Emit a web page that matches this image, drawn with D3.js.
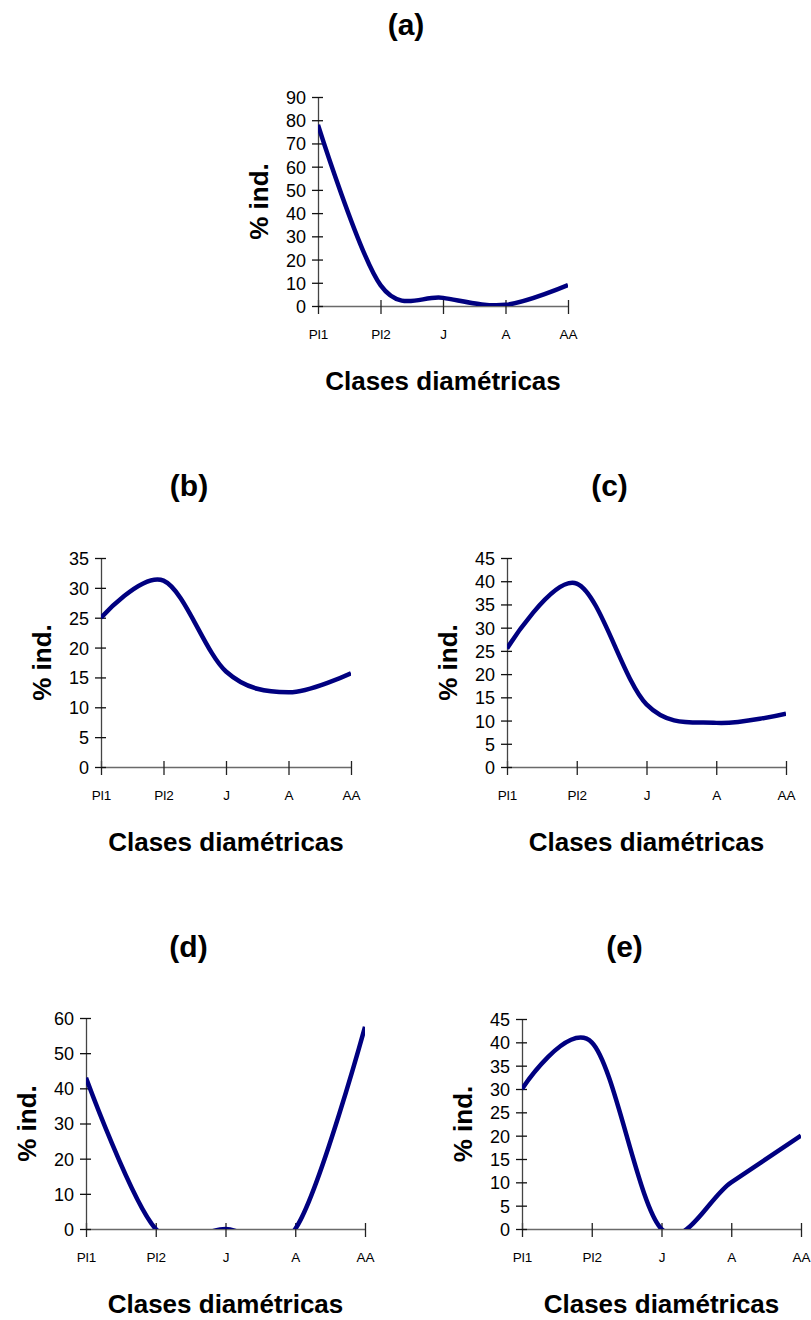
<!DOCTYPE html>
<html>
<head>
<meta charset="utf-8" />
<style>
body { margin:0; background:#fff; }
text { font-family: Arial, "Liberation Sans", sans-serif; fill:#000; }
.titulo { font-size:30px; font-weight:bold; }
.eje { font-size:26px; font-weight:bold; }
.ytick { font-size:18px; }
.xtick { font-size:13.5px; }
</style>
</head>
<body>
<svg id="lienzo" width="811" height="1320" xmlns="http://www.w3.org/2000/svg"></svg>
<script src="https://cdn.jsdelivr.net/npm/d3@7"></script>
<script>

// clases diametricas
var clases = ["Pl1", "Pl2", "J", "A", "AA"];

// % de individuos por panel
var valoresA = [78, 9, 3.5, 0.5, 9];
var valoresB = [25, 31.2, 16, 12.5, 15.7];
var valoresC = [25.5, 39.5, 13.5, 9.5, 11.5];
var valoresD = [43, 0, 0, 0, 57.5];
var valoresE = [30, 40, 0, 10, 20];

// etiquetas del eje y
var ticksA = [0, 10, 20, 30, 40, 50, 60, 70, 80, 90];
var ticksB = [0, 5, 10, 15, 20, 25, 30, 35];
var ticksC = [0, 5, 10, 15, 20, 25, 30, 35, 40, 45];
var ticksD = [0, 10, 20, 30, 40, 50, 60];
var ticksE = [0, 5, 10, 15, 20, 25, 30, 35, 40, 45];

var svg = d3.select("#lienzo");

// posicion de cada grafico (area de trazado)
var paneles = [
	{id:"a", valores:valoresA, ticks:ticksA, x0:318, x1:568, y0:306, y1:97, tituloY:35},
	{id:"b", valores:valoresB, ticks:ticksB, x0:101, x1:351, y0:767, y1:558, tituloY:496},
	{id:"c", valores:valoresC, ticks:ticksC, x0:507, x1:786, y0:767, y1:558, tituloY:496},
	{id:"d", valores:valoresD, ticks:ticksD, x0:86, x1:365, y0:1229, y1:1018, tituloY:957},
	{id:"e", valores:valoresE, ticks:ticksE, x0:522, x1:801, y0:1229, y1:1019, tituloY:957}
];

paneles.forEach(function(p) {
	var g = svg.append("g");
	var x = d3.scalePoint().domain(clases).range([p.x0, p.x1]).padding(0);
	var y = d3.scaleLinear().domain([0, d3.max(p.ticks)]).range([p.y0, p.y1]);
	var centro = (p.x0 + p.x1) / 2;

	// titulo
	g.append("text").attr("class", "titulo")
		.attr("x", centro - 37).attr("y", p.tituloY)
		.attr("text-anchor", "middle").text("(" + p.id + ")");

	// eje x
	var ejeX = g.append("g")
		.attr("transform", "translate(0," + p.y0 + ")")
		.call(d3.axisBottom(x).tickSize(0).tickPadding(0));
	ejeX.select(".domain").attr("stroke", "#6a6a6a").attr("stroke-width", 1.3);
	ejeX.selectAll(".tick line").attr("y1", -6).attr("y2", 8)
		.attr("stroke", "#222").attr("stroke-width", 1.3);
	ejeX.selectAll(".tick text").attr("class", "xtick")
		.attr("y", 33).attr("dy", null)
		.attr("font-family", null).attr("font-size", null).attr("fill", "#000");

	// eje y
	var ejeY = g.append("g")
		.attr("transform", "translate(" + p.x0 + ",0)")
		.call(d3.axisLeft(y).tickValues(p.ticks).tickSize(0).tickPadding(0));
	ejeY.select(".domain").attr("stroke", "#444").attr("stroke-width", 1.3);
	ejeY.selectAll(".tick line").attr("x1", -6).attr("x2", 5)
		.attr("stroke", "#111").attr("stroke-width", 1.3);
	ejeY.selectAll(".tick text").attr("class", "ytick")
		.attr("x", -12).attr("dy", "0.36em")
		.attr("font-family", null).attr("font-size", null).attr("fill", "#000");

	// titulos de ejes
	g.append("text").attr("class", "eje")
		.attr("transform", "translate(" + (p.x0 - 50) + "," + ((p.y0 + p.y1) / 2) + ") rotate(-90)")
		.attr("text-anchor", "middle").text("% ind.");
	g.append("text").attr("class", "eje")
		.attr("x", centro).attr("y", p.y0 + 84)
		.attr("text-anchor", "middle").text("Clases diamétricas");

	// recorte al area de trazado
	g.append("clipPath").attr("id", "clip" + p.id)
		.append("rect")
		.attr("x", p.x0).attr("y", p.y1 - 20)
		.attr("width", p.x1 - p.x0).attr("height", p.y0 - p.y1 + 20);

	var linea = d3.line()
		.x(function(d, i) { return x(clases[i]); })
		.y(function(d) { return y(d); })
		.curve(d3.curveCardinal.tension(0));

	g.append("path")
		.datum(p.valores)
		.attr("clip-path", "url(#clip" + p.id + ")")
		.attr("d", linea)
		.attr("fill", "none")
		.attr("stroke", "#000080")
		.attr("stroke-width", 4.5);
});

</script>
</body>
</html>
